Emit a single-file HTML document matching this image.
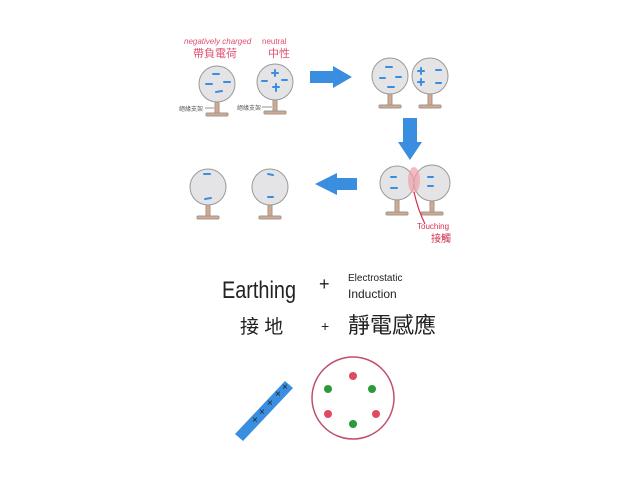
<!DOCTYPE html>
<html><head><meta charset="utf-8"><style>
html,body{margin:0;padding:0;background:#fff;width:640px;height:480px;overflow:hidden}
svg{display:block}
.h{font-family:"Liberation Sans","Noto Sans CJK TC",sans-serif}
</style></head><body>
<svg width="640" height="480" viewBox="0 0 640 480" xmlns="http://www.w3.org/2000/svg">
<defs>
<g id="st"><rect x="-2" y="17" width="4" height="14" fill="#d8a888"/><rect x="-11" y="29" width="22" height="3" rx="1" fill="#d8a888"/></g>
</defs>
<g stroke="#999" stroke-width="1" fill="#e4e4e6">
<use href="#st" x="217" y="84"/><circle cx="217" cy="84" r="18"/>
<use href="#st" x="275" y="82"/><circle cx="275" cy="82" r="18"/>
<use href="#st" x="390" y="76"/><circle cx="390" cy="76" r="18"/>
<use href="#st" x="430" y="76"/><circle cx="430" cy="76" r="18"/>
<use href="#st" x="397" y="183"/><circle cx="397" cy="183" r="17"/>
<use href="#st" x="432" y="183"/><circle cx="432" cy="183" r="18"/>
<use href="#st" x="208" y="187"/><circle cx="208" cy="187" r="18"/>
<use href="#st" x="270" y="187"/><circle cx="270" cy="187" r="18"/>
</g>
<ellipse cx="414" cy="180" rx="6" ry="13" fill="#f0a0a8" opacity="0.7"/>
<path d="M414 192 Q418 210 425 224" stroke="#d03050" stroke-width="1.2" fill="none"/>
<g stroke="#3a8ee0" stroke-width="2" stroke-linecap="round">
<line x1="213" y1="74" x2="219" y2="74"/><line x1="206" y1="84" x2="212" y2="84"/><line x1="224" y1="82" x2="230" y2="82"/><line x1="216" y1="92" x2="222" y2="91"/>
<line x1="272" y1="73" x2="278" y2="73"/><line x1="275" y1="70" x2="275" y2="76"/><line x1="262" y1="81" x2="267" y2="81"/><line x1="282" y1="80" x2="287" y2="80"/><line x1="273" y1="87" x2="279" y2="87"/><line x1="276" y1="84" x2="276" y2="91"/>
<line x1="386" y1="67" x2="392" y2="67"/><line x1="380" y1="78" x2="385" y2="78"/><line x1="396" y1="77" x2="401" y2="77"/><line x1="388" y1="87" x2="394" y2="87"/>
<line x1="418" y1="71" x2="424" y2="71"/><line x1="421" y1="68" x2="421" y2="74"/><line x1="418" y1="82" x2="424" y2="82"/><line x1="421" y1="79" x2="421" y2="85"/><line x1="436" y1="70" x2="441" y2="70"/><line x1="436" y1="83" x2="441" y2="83"/>
<line x1="391" y1="177" x2="396" y2="177"/><line x1="391" y1="188" x2="397" y2="188"/><line x1="428" y1="177" x2="433" y2="177"/><line x1="428" y1="186" x2="433" y2="186"/>
<line x1="204" y1="174" x2="210" y2="174"/><line x1="205" y1="199" x2="211" y2="198"/>
<line x1="268" y1="174" x2="273" y2="175"/><line x1="268" y1="197" x2="273" y2="197"/>
</g>
<g fill="#3a8ee0">
<polygon points="310,71 333,71 333,66 352,77 333,88 333,83 310,83"/>
<polygon points="403,118 417,118 417,142 422,142 410,160 398,142 403,142"/>
<polygon points="357,178 337,178 337,173 315,184 337,195 337,190 357,190"/>
<polygon points="235,434 285,381 293,388 243,441"/>
</g>
<g class="h" fill="#222" font-size="10">
<text x="252" y="423">×</text>
<text x="259" y="415">×</text>
<text x="267" y="406">×</text>
<text x="275" y="397">×</text>
<text x="282" y="390">×</text>
</g>
<line x1="205" y1="108" x2="214" y2="108" stroke="#666" stroke-width="0.7"/>
<line x1="262" y1="107" x2="272" y2="107" stroke="#666" stroke-width="0.7"/>
<text class="h" x="179" y="111" font-size="6" fill="#555">絕緣支架</text>
<text class="h" x="237" y="110" font-size="6" fill="#555">絕緣支架</text>
<text class="h" x="184" y="44" font-size="8" fill="#e05070" font-style="italic">negatively charged</text>
<text class="h" x="193" y="57" font-size="11" fill="#e05070">帶負電荷</text>
<text class="h" x="262" y="44" font-size="8" fill="#e05070">neutral</text>
<text class="h" x="268" y="57" font-size="11" fill="#e05070">中性</text>
<text class="h" x="417" y="229" font-size="8" fill="#d03050">Touching</text>
<text class="h" x="431" y="242" font-size="10" fill="#d03050">接觸</text>
<text class="h" x="222" y="298" font-size="24" fill="#222" textLength="74" lengthAdjust="spacingAndGlyphs">Earthing</text>
<text class="h" x="319" y="290" font-size="18" fill="#222">+</text>
<text class="h" x="348" y="281" font-size="10" fill="#222">Electrostatic</text>
<text class="h" x="348" y="298" font-size="12" fill="#222">Induction</text>
<text class="h" x="240" y="333" font-size="19" fill="#222">接 地</text>
<text class="h" x="321" y="331" font-size="14" fill="#222">+</text>
<text class="h" x="348" y="333" font-size="22" fill="#222">靜電感應</text>
<circle cx="353" cy="398" r="41" fill="none" stroke="#c0506a" stroke-width="1.5"/>
<circle cx="353" cy="376" r="4" fill="#e04a60"/><circle cx="328" cy="389" r="4" fill="#2a9a3a"/><circle cx="372" cy="389" r="4" fill="#2a9a3a"/>
<circle cx="328" cy="414" r="4" fill="#e04a60"/><circle cx="376" cy="414" r="4" fill="#e04a60"/><circle cx="353" cy="424" r="4" fill="#2a9a3a"/>
</svg>
</body></html>
